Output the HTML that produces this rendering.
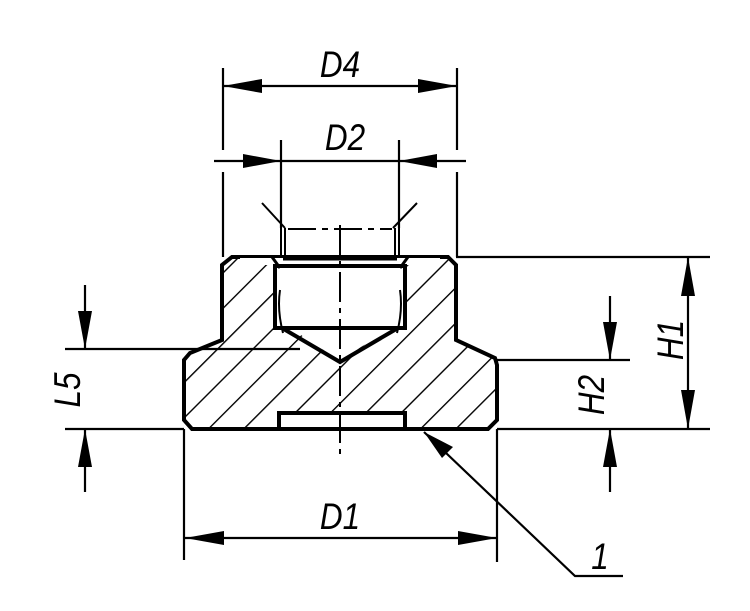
<!DOCTYPE html>
<html><head><style>body{margin:0;background:#fff}svg{display:block}text{font-family:"Liberation Sans",sans-serif;font-style:italic;font-size:37px;fill:#000}</style></head><body>
<svg width="750" height="611" viewBox="0 0 750 611" xmlns="http://www.w3.org/2000/svg">
<defs>
<pattern id="h" patternUnits="userSpaceOnUse" width="25" height="25" patternTransform="rotate(45)">
<line x1="0" y1="0" x2="0" y2="25" stroke="#000" stroke-width="2.8"/>
</pattern>
</defs>
<g stroke="#000" fill="none">
<path d="M232,257 L448,257 L456,265 L456,340 L495,358 L497,365 L497,420 L488,429 L405,429 L405,413 L279,413 L279,429 L192,429 L184,420 L184,360 L190,353 L222,340 L222,265 Z M275,266 L275,328 L298,333 L340,361 L382,333 L405,328 L405,266 Z" fill="url(#h)" fill-rule="evenodd" stroke="none"/>
<path d="M232,257 L448,257 L456,265 L456,340 L495,358 L497,365 L497,420 L488,429 L405,429 L405,413 L279,413 L279,429 L192,429 L184,420 L184,360 L190,353 L222,340 L222,265 Z" stroke-width="4"/>
<path d="M279,429 L405,429" stroke-width="4"/>
<rect x="240" y="258" width="200" height="7" fill="#fff" stroke="none"/>
<path d="M275,266 L405,266 L405,328 L275,328 Z" fill="#fff" stroke-width="4"/>
<path d="M282,328 L340,362 L398,328" stroke-width="4"/>
<path d="M283,259 L397,259 M280,268 L272,257 M400,268 L408,257" stroke-width="3"/>
<path d="M283,333 Q277,310 280,290 M397,333 Q403,310 400,290" stroke-width="2"/>
<path d="M281,228 L281,257 M285,228 L285,257 M399,228 L399,257 M395,228 L395,257" stroke-width="2"/>
<path d="M288,229 L392,229" stroke-width="2" stroke-dasharray="28,6,6,6"/>
<path d="M262,203 L285,228 M417,203 L393,228" stroke-width="2"/>
<path d="M340,225 L340,460" stroke-width="2" stroke-dasharray="30,6,5,6"/>
<g stroke-width="2.2">
<path d="M223,68 L223,150 M223,172 L223,257 M457,68 L457,150 M457,172 L457,257"/>
<path d="M223,86 L457,86"/>
<path d="M214,161 L466,161 M281,140 L281,228 M399,140 L399,228"/>
<path d="M456,257 L710,257 M497,429 L710,429 M497,360 L630,360 M65,349 L300,349 M65,429 L184,429"/>
<path d="M688,257 L688,429 M610,296 L610,360 M610,429 L610,492 M85,285 L85,349 M85,429 L85,492"/>
<path d="M184,429 L184,560 M497,429 L497,562 M185,538 L497,538"/>
<path d="M424,432 L575,576 L623,576"/>
</g>
<g fill="#000" stroke="none">
<path d="M223,86 L262,79 L262,93 Z M457,86 L418,79 L418,93 Z"/>
<path d="M281,161 L243,154 L243,168 Z M399,161 L437,154 L437,168 Z"/>
<path d="M688,257 L681,296 L695,296 Z M688,429 L681,390 L695,390 Z"/>
<path d="M610,360 L603,322 L617,322 Z M610,429 L603,467 L617,467 Z"/>
<path d="M85,349 L78,311 L92,311 Z M85,429 L78,467 L92,467 Z"/>
<path d="M185,538 L224,531 L224,545 Z M497,538 L458,531 L458,545 Z"/>
<path d="M424,432 L453,447 L442,458 Z"/>
</g>
</g>
<text transform="translate(340,77) scale(0.85,1)" text-anchor="middle">D4</text>
<text transform="translate(345,150) scale(0.85,1)" text-anchor="middle">D2</text>
<text transform="translate(340,529) scale(0.85,1)" text-anchor="middle">D1</text>
<text transform="translate(600,569) scale(0.85,1)" text-anchor="middle">1</text>
<text transform="translate(80,390) rotate(-90) scale(0.85,1)" text-anchor="middle">L5</text>
<text transform="translate(604,395) rotate(-90) scale(0.85,1)" text-anchor="middle">H2</text>
<text transform="translate(683,340) rotate(-90) scale(0.85,1)" text-anchor="middle">H1</text>
</svg>
</body></html>
